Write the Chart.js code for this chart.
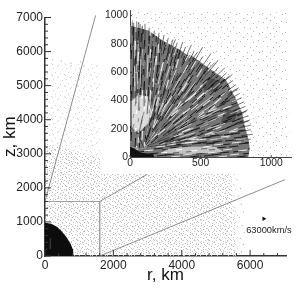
<!DOCTYPE html>
<html>
<head>
<meta charset="utf-8">
<script src="https://cdn.jsdelivr.net/npm/chart.js@4"></script>
<style>
  body { margin: 0; background: #fff; }
  #mainChart { position: absolute; left: 0; top: 0; }
  #insetChart { position: absolute; left: 100px; top: 0; background: #fff; }
</style>
</head>
<body>
<canvas id="mainChart" width="302" height="302"></canvas>
<canvas id="insetChart" width="202" height="174"></canvas>
<script>
// main panel, all in km
var rTicksMajor = [0, 2000, 4000, 6000];
var rTicksMinor = [400, 800, 1200, 1600, 2400, 2800, 3200, 3600, 4400, 4800, 5200, 5600, 6400, 6800];
var zTicksMajor = [0, 1000, 2000, 3000, 4000, 5000, 6000, 7000];
var zTicksMinor = [200, 400, 600, 800, 1200, 1400, 1600, 1800, 2200, 2400, 2600, 2800, 3200, 3400, 3600, 3800, 4200, 4400, 4600, 4800, 5200, 5400, 5600, 5800, 6200, 6400, 6600, 6800];

var sparseRegion = [[0, 0], [0, 5660], [1700, 5620], [5350, 5500], [5600, 2000], [5720, 0]];
var denseRegion = [[0, 0], [0, 3300], [1600, 2900], [3000, 2600], [5450, 2400], [5560, 1000], [5600, 0]];
var coreRegion = [[0, 0], [0, 976], [180, 950], [350, 860], [500, 710], [640, 537], [750, 350], [820, 185], [835, 0]];
var coreStreak = [[130, 200], [170, 210], [175, 520], [140, 530]];
var edgeDots = [[5750, 120], [5800, 340], [5710, 520], [5830, 690], [5760, 900], [5690, 1130], [5810, 1290], [5740, 1520], [5670, 1760], [5720, 1980], [5620, 2230], [5660, 2420], [5590, 2530], [480, 5720], [1040, 5700], [220, 5760], [760, 5660]];

var boxLine = [[0, 1600], [1600, 1600], [1600, 0]];
var zoomLineUp = [[0, 1600], [1480, 7060]];
var zoomLineRight = [[1600, 1600], [3000, 2400]];
var zoomLineLow = [[1600, 0], [7020, 2240]];

var arrowAt = [[6400, 1090]];
var arrowLabel = '63000km/s';
var arrowLabelAt = [6550, 742];

// inset panel, also km
var insetRTicks = [0, 500, 1000];
var insetZTicks = [0, 200, 400, 600, 800, 1000];
var insetBack = [[0, 0], [0, 1035], [600, 1040], [1125, 1020], [1130, 0]];
var sectorA = [[100, 60], [237, 820], [130, 895], [0, 930], [0, 70]];
var sectorB = [[100, 60], [400, 725], [350, 760], [237, 820]];
var sectorC = [[100, 60], [570, 620], [430, 722], [400, 725]];
var sectorD = [[100, 60], [740, 430], [680, 545], [570, 620]];
var sectorE = [[100, 60], [815, 205], [795, 312], [740, 430]];
var sectorF = [[100, 60], [815, 205], [840, 122], [848, 60], [838, 0], [0, 0], [0, 70]];
var lightPatch = [[14, 210], [60, 170], [130, 240], [145, 340], [125, 430], [60, 440], [14, 400]];
var lowBand = [[220, 28], [440, 22], [660, 38], [610, 70], [400, 75], [260, 56]];
var cornerDark = [[0, 0], [170, 0], [165, 22], [80, 30], [30, 60], [0, 70]];
var darkBandA = [[530, 450], [620, 470], [640, 540], [560, 560], [510, 520]];
var darkBandB = [[640, 240], [740, 250], [760, 320], [680, 340]];

// r0,z0,r1,z1 for each arrow
var blackArrows = [
  251,73,402,86, 515,96,628,106, 742,116,855,126,
  322,99,433,118, 545,138,656,158, 752,174,856,193,
  281,108,390,136, 499,165,608,193, 716,222,840,254,
  242,112,349,150, 455,189,562,228, 682,272,824,323,
  306,156,408,204, 511,252,614,300, 682,332,806,390,
  199,117,330,193, 429,250,527,306, 639,371,777,450,
  288,190,381,256, 475,321,569,386, 631,430,750,512,
  219,160,338,260, 427,334,516,409, 588,469,725,584,
  262,222,343,303, 424,384,505,465, 559,519,672,632,
  221,204,294,290, 366,377,439,463, 497,532,623,682,
  250,273,315,365, 367,438,435,536, 465,578,573,731,
  175,190,250,321, 288,386,356,503, 408,595,514,777,
  193,264,249,386, 286,468,342,590, 364,638,435,794,
  217,383,257,490, 277,548,322,669, 330,691,374,813,
  149,245,182,371, 207,467,240,593, 260,667,303,830,
  155,372,179,512, 189,567,212,700, 219,739,241,863,
  121,303,135,465, 141,530,153,668, 157,724,172,894,
  100,357,100,527, 102,569,104,722, 104,782,106,942,
  20,420,22,560, 22,620,24,780, 24,820,26,950,
  40,380,42,530, 42,600,45,760, 45,800,48,960,
  62,330,64,480, 65,560,68,720, 68,770,72,940,
  80,500,83,650, 84,700,88,930,
  120,70,300,95, 125,80,280,140, 115,85,200,200, 110,90,150,220, 100,60,60,150,
  60,150,90,290,
  788,150,870,161, 774,207,855,225, 760,266,839,291, 741,326,818,358,
  717,382,791,420, 690,434,760,479, 661,490,728,541, 622,538,684,596,
  571,573,627,635, 520,606,571,671, 471,640,515,710, 416,673,453,746,
  362,702,394,779, 310,730,335,810, 253,759,271,843, 195,791,206,879,
  132,824,136,915, 60,860,62,955, 15,870,16,958, 300,780,322,832,
  440,690,478,742, 545,612,600,668, 640,520,705,572, 700,450,770,490,
  760,300,830,330, 780,240,850,262
];
var whiteArrows = [
  362,94,474,109, 564,121,698,138,
  357,116,467,140, 555,159,673,188,
  351,138,459,172, 530,194,674,239,
  344,161,449,205, 518,233,658,291,
  335,183,436,235, 503,270,637,340,
  324,202,420,264, 485,304,613,386,
  313,223,405,294, 466,340,588,434,
  298,242,384,320, 440,372,554,476,
  279,255,356,339, 407,395,510,506,
  260,268,329,357, 374,416,466,534,
  241,281,302,376, 342,439,422,565,
  220,293,272,393, 306,473,374,593,
  200,304,243,409, 271,479,328,618,
  180,315,214,424, 237,497,282,642,
  158,326,183,440, 200,516,233,668,
  136,338,152,457, 162,537,182,696,
  112,350,118,475, 121,558,128,724,
  30,500,32,640, 52,480,54,600, 53,650,56,800, 74,520,76,690, 32,700,34,830
];

function points(list) {
  return list.map(function (p) { return { x: p[0], y: p[1] }; });
}

function arrows(flat) {
  var out = [];
  for (var i = 0; i < flat.length; i += 4) {
    out.push({ x: flat[i], y: flat[i + 1] });
    out.push({ x: flat[i + 2], y: flat[i + 3] });
    out.push({ x: NaN, y: NaN });
  }
  return out;
}

// stipple textures for the dotted regions
function stipple(w, h, colour, dots) {
  var c = document.createElement('canvas');
  c.width = w;
  c.height = h;
  var g = c.getContext('2d');
  g.fillStyle = colour;
  dots.forEach(function (d) { g.fillRect(d[0], d[1], 1, 1); });
  return g.createPattern(c, 'repeat');
}

var sparseTex = stipple(13, 11, '#d4d4d4', [[1, 2], [5, 0], [10, 3], [3, 6], [8, 7], [12, 8], [0, 9], [6, 10]]);
var denseTex = stipple(11, 9, '#c2c2c2', [[0, 1], [3, 0], [6, 1], [9, 0], [2, 3], [5, 4], [8, 3], [10, 5], [0, 6], [3, 7], [7, 6], [5, 8]]);
var insetTex = stipple(23, 19, '#b8b8b8', [[2, 3], [9, 1], [15, 4], [20, 2], [6, 8], [12, 9], [18, 8], [1, 13], [9, 14], [15, 12], [21, 14], [5, 18], [13, 17]]);

// hair texture for the fan, one tile per arrow direction
var darkSpots = [[2, 3], [9, 1], [17, 4], [25, 2], [33, 5], [41, 1], [5, 9], [13, 8], [21, 10], [28, 7], [37, 11], [44, 8], [1, 14], [8, 15], [16, 13], [24, 16], [31, 18], [40, 15], [4, 20], [12, 21], [19, 19], [27, 22], [35, 24], [45, 21], [7, 26], [15, 27], [23, 25], [30, 12], [39, 29], [2, 31], [10, 33], [18, 32], [26, 30], [33, 36], [43, 34], [6, 38], [14, 39], [22, 37], [29, 40], [38, 40]];
var paleSpots = [[6, 5], [19, 7], [35, 9], [11, 12], [27, 14], [42, 17], [3, 17], [20, 22], [38, 20], [9, 24], [29, 27], [44, 28], [14, 30], [24, 34], [36, 32], [3, 36]];

function hair(base, dx, dy, dark, pale) {
  var w = 47, h = 41;
  var c = document.createElement('canvas');
  c.width = w;
  c.height = h;
  var g = c.getContext('2d');
  g.fillStyle = base;
  g.fillRect(0, 0, w, h);
  function dashes(spots, colour, width) {
    g.strokeStyle = colour;
    g.lineWidth = width;
    g.beginPath();
    spots.forEach(function (s) {
      [-w, 0, w].forEach(function (ox) {
        [-h, 0, h].forEach(function (oy) {
          g.moveTo(s[0] + ox, s[1] + oy);
          g.lineTo(s[0] + ox + dx, s[1] + oy + dy);
        });
      });
    });
    g.stroke();
  }
  dashes(darkSpots, dark, 1);
  dashes(paleSpots, pale, 1.1);
  return g.createPattern(c, 'repeat');
}

var fanBase = '#767676', fanDark = 'rgba(10,10,10,0.85)', fanPale = 'rgba(250,250,250,0.85)';

function region(list, colour) {
  return { type: 'scatter', showLine: true, data: points(list), fill: 'shape', backgroundColor: colour, borderWidth: 0, pointRadius: 0 };
}

function line(list, colour, width) {
  return { type: 'scatter', showLine: true, data: points(list), fill: false, borderColor: colour, borderWidth: width, pointRadius: 0 };
}

function strokes(flat, colour, width) {
  return { type: 'scatter', showLine: true, data: arrows(flat), fill: false, borderColor: colour, borderWidth: width, pointRadius: 0, spanGaps: false };
}

// inward ticks, chart.js only draws them outward
function tickMarks(xMajor, xMinor, yMajor, yMinor, longTick, shortTick, colour, width) {
  return {
    id: 'tickMarks',
    afterDraw: function (chart) {
      var g = chart.ctx, a = chart.chartArea, x = chart.scales.x, y = chart.scales.y;
      g.save();
      g.strokeStyle = colour;
      g.lineWidth = width;
      g.beginPath();
      function xTick(v, len) { var p = x.getPixelForValue(v); g.moveTo(p, a.bottom); g.lineTo(p, a.bottom - len); }
      function yTick(v, len) { var p = y.getPixelForValue(v); g.moveTo(a.left, p); g.lineTo(a.left + len, p); }
      xMajor.forEach(function (v) { xTick(v, longTick); });
      xMinor.forEach(function (v) { xTick(v, shortTick); });
      yMajor.forEach(function (v) { yTick(v, longTick); });
      yMinor.forEach(function (v) { yTick(v, shortTick); });
      g.stroke();
      g.restore();
    }
  };
}

var speedLabel = {
  id: 'speedLabel',
  afterDraw: function (chart) {
    var g = chart.ctx;
    g.save();
    g.fillStyle = '#222';
    g.font = '9.3px "Liberation Sans"';
    g.textAlign = 'center';
    g.textBaseline = 'middle';
    g.fillText(arrowLabel, chart.scales.x.getPixelForValue(arrowLabelAt[0]), chart.scales.y.getPixelForValue(arrowLabelAt[1]));
    g.restore();
  }
};

function axis(min, max, ticks, fontSize, size, pad, titleText, titlePad, colour, width) {
  return {
    type: 'linear',
    min: min,
    max: max,
    afterBuildTicks: function (s) { s.ticks = ticks.map(function (v) { return { value: v }; }); },
    afterFit: function (s) {
      if (s.axis === 'x') { s.height = size; s.paddingLeft = 0; s.paddingRight = 0; }
      else { s.width = size; s.paddingTop = 0; s.paddingBottom = 0; }
    },
    grid: { display: false, drawTicks: false },
    border: { display: true, color: colour, width: width },
    ticks: {
      autoSkip: false,
      maxRotation: 0,
      padding: pad,
      color: '#222',
      font: { family: '"Liberation Sans"', size: fontSize },
      callback: function (v) { return String(v); }
    },
    title: {
      display: !!titleText,
      text: titleText,
      color: '#111',
      padding: titlePad,
      font: { family: '"Liberation Sans"', size: 17 }
    }
  };
}

// chart.js paints the first dataset last, so lists below go bottom to top and get reversed
new Chart(document.getElementById('mainChart'), {
  type: 'scatter',
  data: {
    datasets: [
      region(sparseRegion, sparseTex),
      region(denseRegion, denseTex),
      { data: points(edgeDots), pointRadius: 0.6, backgroundColor: '#aaa', borderWidth: 0 },
      region(coreRegion, '#0d0d0d'),
      region(coreStreak, '#383838'),
      line(boxLine, '#a0a0a0', 1),
      line(zoomLineUp, '#707070', 0.8),
      line(zoomLineRight, '#707070', 0.8),
      line(zoomLineLow, '#707070', 0.8),
      { data: points(arrowAt), pointStyle: 'triangle', rotation: 90, pointRadius: 2.6, backgroundColor: '#111', borderWidth: 0 }
    ].reverse()
  },
  options: {
    responsive: false,
    animation: false,
    clip: false,
    layout: { padding: { top: 17.5, right: 16, left: 0, bottom: 0 } },
    plugins: { legend: { display: false }, tooltip: { enabled: false } },
    scales: {
      x: axis(0, 7050, rTicksMajor, 12, 46, 2, 'r, km', { top: 0, bottom: 16 }, '#333', 1.5),
      y: axis(0, 7000, zTicksMajor, 12, 45, 2, 'z, km', { top: 0, bottom: 0 }, '#333', 1.5)
    }
  },
  plugins: [tickMarks(rTicksMajor, rTicksMinor, zTicksMajor, zTicksMinor, 6, 3, '#333', 1), speedLabel]
});

new Chart(document.getElementById('insetChart'), {
  type: 'scatter',
  data: {
    datasets: [
      region(insetBack, insetTex),
      region(sectorA, hair(fanBase, 0.6, -9, fanDark, fanPale)),
      region(sectorB, hair(fanBase, 2.5, -9, fanDark, fanPale)),
      region(sectorC, hair(fanBase, 5, -8, fanDark, fanPale)),
      region(sectorD, hair(fanBase, 7, -6, fanDark, fanPale)),
      region(sectorE, hair(fanBase, 8.5, -3.5, fanDark, fanPale)),
      region(sectorF, hair(fanBase, 9.2, -1, fanDark, fanPale)),
      region(lightPatch, hair('#dcdcdc', 1, -4, 'rgba(110,110,110,0.7)', '#fff')),
      region(lowBand, hair('#c4c4c4', 6, -0.5, 'rgba(60,60,60,0.7)', '#fff')),
      region(darkBandA, 'rgba(0,0,0,0.3)'),
      region(darkBandB, 'rgba(0,0,0,0.3)'),
      strokes(whiteArrows, 'rgba(255,255,255,0.7)', 0.9),
      strokes(blackArrows, 'rgba(20,20,20,0.75)', 0.8),
      region(cornerDark, '#111')
    ].reverse()
  },
  options: {
    responsive: false,
    animation: false,
    layout: { padding: { top: 10, right: 11, left: 0, bottom: 0 } },
    plugins: { legend: { display: false }, tooltip: { enabled: false } },
    scales: {
      x: axis(0, 1140, insetRTicks, 10.3, 17, 0, '', {}, '#444', 1),
      y: axis(0, 1040, insetZTicks, 10.3, 30, 2, '', {}, '#444', 1)
    }
  },
  plugins: [tickMarks(insetRTicks, [], insetZTicks, [], 2, 0, '#444', 1)]
});
</script>
</body>
</html>
